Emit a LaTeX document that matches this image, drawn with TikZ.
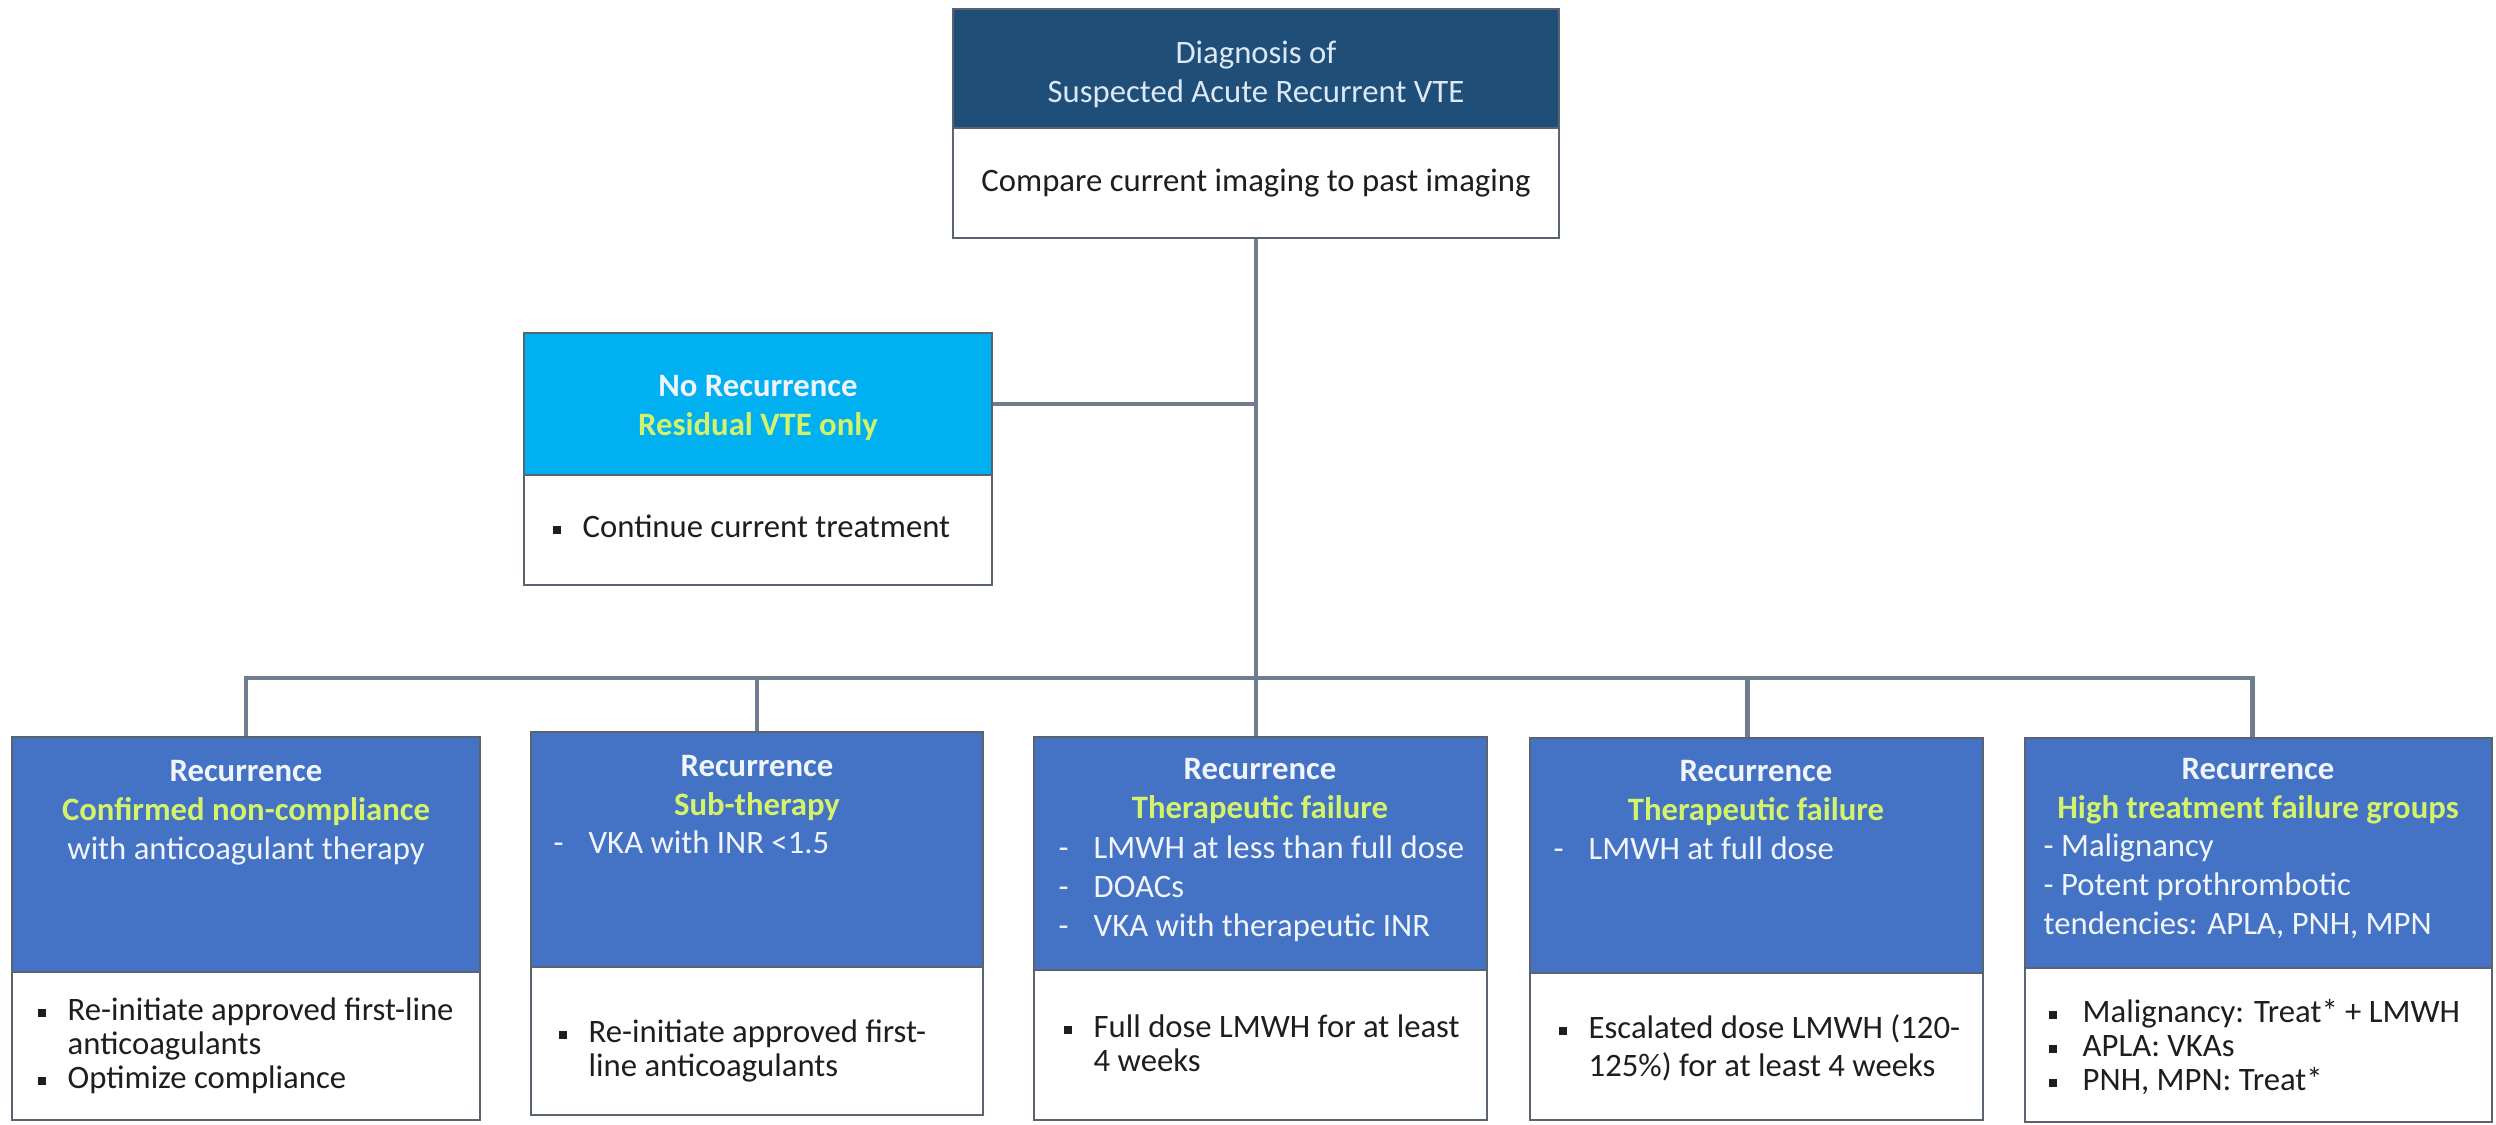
\documentclass[tikz,border=0pt]{standalone}
\usepackage{fontspec}
\setmainfont{Carlito}
\usetikzlibrary{fit}
\definecolor{navy}{HTML}{1F4E79}
\definecolor{cyanhdr}{HTML}{00B0F0}
\definecolor{rechdr}{HTML}{4472C4}
\definecolor{lime}{HTML}{D4F26A}
\definecolor{hwhite}{HTML}{F0F5FC}
\definecolor{ttitle}{HTML}{DCE8F5}
\definecolor{bordc}{HTML}{5A6470}
\definecolor{connc}{HTML}{6F7D8E}
\definecolor{bodytxt}{HTML}{1E1E1E}
\newlength\bind
\setlength\bind{0.3cm}
\newcommand\bsq{\makebox[\bind][l]{\rule[0.035cm]{0.08cm}{0.08cm}}}
\newcommand\bsqw{\makebox[0.34cm][l]{\rule[0.035cm]{0.08cm}{0.08cm}}}
\newcommand\dsh{\makebox[0.35cm][l]{-}}
\newcommand\hdfont{\fontsize{9.3}{11.1}\selectfont}
\newcommand\bdfont{\fontsize{9.3}{9.7}\selectfont}
\begin{document}
\begin{tikzpicture}[x=0.01cm,y=-0.01cm,
  boxs/.style={draw=bordc, line width=0.8pt, inner sep=0pt},
  hdtxt/.style={font=\hdfont, align=center, inner sep=0pt, text=hwhite},
  lsttxt/.style={font=\hdfont, align=left, inner sep=0pt, text=hwhite, anchor=north west},
  bdtxt/.style={font=\bdfont, align=left, inner sep=0pt, text=bodytxt},
  conn/.style={draw=connc, line width=1.3pt}]
\useasboundingbox[fill=white] (0,0) rectangle (2496,1125);
\coordinate (bar) at (0,678);

% top box
\node[boxs, fill=navy, fit={(953,9) (1559,128)}] (th) {};
\node[boxs, fill=white, fit={(953,128) (1559,238)}] (tb) {};
\node[hdtxt, text=ttitle, anchor=north] (tt) at (1256,35) {\strut Diagnosis of\\Suspected Acute Recurrent VTE};
\node[bdtxt, anchor=base] (tc) at (1256,192) {Compare current imaging to past imaging};

% no recurrence
\node[boxs, fill=cyanhdr, fit={(524,333) (992,475)}] (nh) {};
\node[boxs, fill=white, fit={(524,475) (992,585)}] (nb) {};
\node[hdtxt, anchor=north] (nt) at (758,368) {\strut\textbf{No Recurrence}\\\textbf{\textcolor{lime}{Residual VTE only}}};
\node[bdtxt, anchor=base west] (nc) at (552,538) {\bsq Continue current treatment};

% box 1
\node[boxs, fill=rechdr, fit={(12,737) (480,972)}] (h1) {};
\node[boxs, fill=white, fit={(12,972) (480,1120)}] (b1) {};
\node[hdtxt, anchor=north] (t1) at (246,753) {\strut\textbf{Recurrence}\\\textbf{\textcolor{lime}{Confirmed non-compliance}}\\with anticoagulant therapy};
\node[bdtxt, anchor=north west] (c1) at (37,996) {\strut\bsq Re-initiate approved first-line\\\hspace*{\bind}anticoagulants\\\bsq Optimize compliance};

% box 2
\node[boxs, fill=rechdr, fit={(531,732) (983,967)}] (h2) {};
\node[boxs, fill=white, fit={(531,967) (983,1115)}] (b2) {};
\node[hdtxt, anchor=north] (t2) at (757,748) {\strut\textbf{Recurrence}\\\textbf{\textcolor{lime}{Sub-therapy}}};
\node[lsttxt] (l2) at (553,825) {\strut\dsh VKA with INR <1.5};
\node[bdtxt, anchor=north west] (c2) at (558,1018) {\strut\bsq Re-initiate approved first-\\\hspace*{\bind}line anticoagulants};

% box 3
\node[boxs, fill=rechdr, fit={(1034,737) (1487,970)}] (h3) {};
\node[boxs, fill=white, fit={(1034,970) (1487,1120)}] (b3) {};
\node[hdtxt, anchor=north] (t3) at (1260,751) {\strut\textbf{Recurrence}\\\textbf{\textcolor{lime}{Therapeutic failure}}};
\node[lsttxt] (l3) at (1058,830) {\strut\dsh LMWH at less than full dose\\\dsh DOACs\\\dsh VKA with therapeutic INR};
\node[bdtxt, anchor=north west] (c3) at (1063,1013) {\strut\bsq Full dose LMWH for at least\\\hspace*{\bind}4 weeks};

% box 4
\node[boxs, fill=rechdr, fit={(1530,738) (1983,973)}] (h4) {};
\node[boxs, fill=white, fit={(1530,973) (1983,1120)}] (b4) {};
\node[hdtxt, anchor=north] (t4) at (1756,753) {\strut\textbf{Recurrence}\\\textbf{\textcolor{lime}{Therapeutic failure}}};
\node[lsttxt] (l4) at (1553,831) {\strut\dsh LMWH at full dose};
\node[bdtxt, anchor=north west] (c4) at (1558,1014) {\strut\bsq Escalated dose LMWH (120-\\\hspace*{\bind}125\%) for at least 4 weeks};

% box 5
\node[boxs, fill=rechdr, fit={(2025,738) (2492,968)}] (h5) {};
\node[boxs, fill=white, fit={(2025,968) (2492,1122)}] (b5) {};
\node[hdtxt, anchor=north] (t5) at (2258,751) {\strut\textbf{Recurrence}\\\textbf{\textcolor{lime}{High treatment failure groups}}};
\node[lsttxt] (l5) at (2043,828) {\strut- Malignancy\\- Potent prothrombotic\\tendencies: APLA, PNH, MPN};
\node[bdtxt, anchor=north west] (c5) at (2048,998) {\strut\bsqw Malignancy: Treat* + LMWH\\\bsqw APLA: VKAs\\\bsqw PNH, MPN: Treat*};

% connectors
\draw[conn] (tb.south) -- (tb.south |- h3.north);
\draw[conn] (nh.east) -- (nh.east -| tb.south);
\draw[conn] (h1.north) -- (h1.north |- bar) -- ([xshift=-0.06cm]h5.north |- bar) -- ([xshift=-0.06cm]h5.north);
\draw[conn] (h2.north) -- (h2.north |- bar);
\draw[conn] ([xshift=-0.09cm]h4.north) -- ([xshift=-0.09cm]h4.north |- bar);
\end{tikzpicture}
\end{document}
